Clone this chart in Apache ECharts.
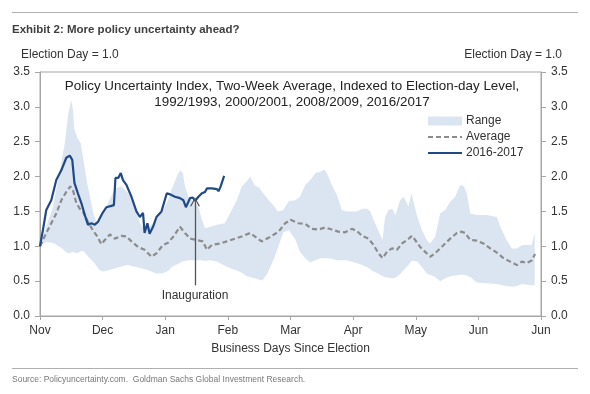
<!DOCTYPE html>
<html><head><meta charset="utf-8">
<script src="https://cdn.jsdelivr.net/npm/echarts@6.0.0/dist/echarts.min.js"></script>
<style>html,body{margin:0;padding:0;background:#fff}#c{width:590px;height:394px}</style>
</head><body><div id="c"></div>
<script>
// ---- data ----
const monthLabels = ['Nov','Dec','Jan','Feb','Mar','Apr','May','Jun','Jun'];

const bandDays = [0,2,4,6,7,8,9,10,10.5,11,
 12,13,14,15,16,17,18,19,20,22,
 24,26,28,30,32,33.5,35,37,39,41,
 42,43.7,44.7,45.6,46.3,47.4,49,50.6,51.7,52.7,
 54.3,56.5,59,61,63,64.5,66,67.1,68.5,70,
 71,72.5,74.5,76,77.7,79.5,81.5,83,84.7,86.3,
 88,89.5,90.8,91.6,93.2,94.8,96.4,98,101,103,
 104.5,105.5,106.5,108,109.4,110.2,111.3,112.5,113.5,115,
 116.1,117.7,118.6,119.5,120.5,122,123.5,124.6,126.2,127.8,
 129.4,131,132.6,134.2,135.3,136.3,137.4,139.5,142.7,145.9,
 147,149,150.7,152.3,154,157,158];
const bandHigh = [1.00,1.28,1.55,2.00,2.25,2.50,2.90,3.10,2.96,2.67,
 2.55,2.48,2.20,1.92,1.70,1.48,1.33,1.35,1.45,1.65,
 1.83,1.86,1.77,1.58,1.33,1.23,1.28,1.38,1.49,1.67,
 1.81,2.00,2.09,2.05,1.86,1.71,1.64,1.57,1.38,1.26,
 1.28,1.31,1.33,1.50,1.68,1.86,1.93,2.00,1.88,1.84,
 1.78,1.69,1.59,1.50,1.52,1.65,1.66,1.71,1.88,1.95,
 2.05,2.07,2.10,2.05,1.88,1.74,1.52,1.50,1.50,1.54,
 1.54,1.50,1.38,1.23,1.09,1.42,1.52,1.54,1.45,1.66,
 1.71,1.57,1.76,1.60,1.42,1.23,1.09,1.04,1.14,1.47,
 1.52,1.64,1.71,1.88,1.86,1.76,1.47,1.45,1.45,1.42,
 1.28,1.09,0.97,0.97,1.02,1.02,1.19];
const bandLow = [1.00,1.06,1.05,1.00,0.97,0.93,0.90,0.91,0.92,0.91,
 0.90,0.93,0.93,0.87,0.82,0.78,0.72,0.66,0.64,0.66,
 0.68,0.71,0.73,0.71,0.69,0.67,0.65,0.61,0.61,0.65,
 0.70,0.74,0.76,0.78,0.79,0.80,0.80,0.80,0.80,0.79,
 0.80,0.78,0.72,0.68,0.65,0.62,0.57,0.56,0.54,0.52,
 0.51,0.60,0.80,0.98,1.20,1.23,1.10,0.92,0.83,0.77,
 0.80,0.83,0.83,0.83,0.82,0.80,0.80,0.80,0.76,0.73,
 0.70,0.67,0.64,0.61,0.57,0.56,0.55,0.54,0.55,0.60,
 0.66,0.73,0.79,0.79,0.78,0.70,0.61,0.59,0.56,0.50,
 0.54,0.57,0.58,0.59,0.59,0.58,0.56,0.48,0.47,0.46,
 0.45,0.43,0.42,0.43,0.46,0.44,0.44];

const avgDays = [0,2,3.6,5.2,6.8,8.4,9.7,10.5,11.6,12.7,
 13.7,15.3,16.9,18.3,19.6,20.7,22.3,23.9,26,27.6,
 29.2,31.3,33.4,35.6,37.2,39.3,40.9,42.6,44.7,46.3,
 47.9,50,52,53.3,54.9,57.5,59.6,62.3,64.4,67.1,
 70.8,73.3,76.2,78.3,80,82.5,84.7,86.8,88.9,91.1,
 93.2,95.3,97.4,99.6,101.2,102.8,104.9,106.5,108.1,109.4,
 110.8,112.4,114,115.6,117.2,118.8,119.8,121.4,123,124.6,
 126.2,127.8,129.4,131,133.1,134.7,135.8,137.4,139.5,141.6,
 143.8,145.9,148,150.2,152.3,153.9,155.5,157.1,158.1];
const avgValues = [1.00,1.19,1.33,1.47,1.66,1.78,1.86,1.81,1.62,1.54,
 1.50,1.35,1.23,1.14,1.03,1.09,1.17,1.11,1.15,1.14,
 1.07,0.99,0.95,0.85,0.90,1.02,1.05,1.14,1.28,1.19,
 1.11,1.09,1.07,0.95,1.02,1.04,1.07,1.11,1.14,1.19,
 1.07,1.13,1.21,1.33,1.38,1.33,1.32,1.25,1.24,1.27,
 1.24,1.21,1.20,1.25,1.22,1.15,1.11,1.02,0.90,0.83,
 0.92,0.97,0.95,1.04,1.09,1.15,1.09,0.99,0.92,0.85,
 0.90,0.97,1.04,1.11,1.19,1.21,1.19,1.09,1.08,1.04,
 0.97,0.91,0.83,0.78,0.73,0.78,0.76,0.80,0.89];

const days2016 = [0,1,2,3.6,5.2,6.8,8.4,9.5,10.3,11,
 12.1,13.2,14.3,15.3,16.4,17.5,18.5,20,21.2,22.8,
 23.6,24.1,25,25.8,26.5,27.6,29.2,30.8,31.9,32.9,
 33.4,34.3,35,36.1,37.2,38.8,40.5,41.3,43.1,44.7,
 45.8,46.6,47.9,48.8,49.5,50.6,51.7,52.7,53.3,54.9,
 56.5,57,57.7,58.8];
const values2016 = [1.00,1.25,1.52,1.66,1.95,2.09,2.27,2.30,2.24,1.91,
 1.76,1.62,1.45,1.31,1.33,1.31,1.35,1.48,1.56,1.58,
 1.59,1.98,1.98,2.05,1.95,1.88,1.71,1.50,1.42,1.48,
 1.19,1.33,1.18,1.28,1.42,1.50,1.76,1.75,1.71,1.69,
 1.66,1.56,1.69,1.70,1.65,1.71,1.76,1.78,1.83,1.83,
 1.82,1.79,1.86,2.01];

const inaugurationDay = 49.5;
const arrowFrom = 0.44, arrowTo = 1.64;

// ---- chart ----
const FONT = '"Liberation Sans", Arial, sans-serif';
const bandColor = '#dbe5f1';
const avgColor = '#8c8c8c';
const lineColor = '#1f4a87';
const axisColor = '#a6a6a6';
const textColor = '#333333';

const chart = echarts.init(document.getElementById('c'), null, {renderer: 'canvas'});

const yAxisCommon = {
  type: 'value', min: 0, max: 3.5, interval: 0.5,
  splitLine: {show: false},
  axisLine: {show: true, lineStyle: {color: axisColor, width: 1}},
  axisTick: {show: true, length: 5, lineStyle: {color: axisColor}},
  axisLabel: {color: textColor, fontSize: 12, fontFamily: FONT, margin: 10,
    formatter: v => v.toFixed(1)}
};

chart.setOption({
  animation: false,
  textStyle: {fontFamily: FONT},
  grid: {left: 40, top: 72, width: 501, height: 244, show: true,
    borderColor: axisColor, borderWidth: 1, backgroundColor: 'transparent'},
  legend: {
    orient: 'vertical', left: 422, top: 110, itemWidth: 34, itemHeight: 9, itemGap: 4,
    textStyle: {color: textColor, fontSize: 12, fontFamily: FONT, padding: [0,0,0,-1]},
    data: [
      {name: 'Range', icon: 'rect'},
      {name: 'Average', itemStyle: {opacity: 0}},
      {name: '2016-2017', itemStyle: {opacity: 0}}
    ]
  },
  xAxis: {
    type: 'value', min: 0, max: 160, interval: 20,
    splitLine: {show: false},
    axisLine: {show: true, lineStyle: {color: axisColor, width: 1}},
    axisTick: {show: true, length: 4, lineStyle: {color: axisColor}},
    axisLabel: {color: textColor, fontSize: 12, fontFamily: FONT, margin: 9,
      formatter: v => monthLabels[Math.round(v / 20)] || ''},
    name: 'Business Days Since Election', nameLocation: 'middle', nameGap: 27,
    nameTextStyle: {color: textColor, fontSize: 12, fontFamily: FONT}
  },
  yAxis: [
    Object.assign({position: 'left'}, yAxisCommon),
    Object.assign({position: 'right'}, yAxisCommon)
  ],
  graphic: [
    {type: 'line', shape: {x1: 12, y1: 12.5, x2: 578, y2: 12.5}, style: {stroke: '#b0b0b0', lineWidth: 1}},
    {type: 'text', left: 12, top: 23.5, style: {text: 'Exhibit 2: More policy uncertainty ahead?',
      font: 'bold 11.5px ' + FONT, fill: '#404040'}},
    {type: 'text', left: 21, top: 48.5, style: {text: 'Election Day = 1.0', font: '12px ' + FONT, fill: textColor}},
    {type: 'text', right: 28, top: 48.5, style: {text: 'Election Day = 1.0', font: '12px ' + FONT, fill: textColor}},
    {type: 'text', x: 292, y: 78, style: {text: 'Policy Uncertainty Index, Two-Week Average, Indexed to Election-day Level,\n1992/1993, 2000/2001, 2008/2009, 2016/2017',
      font: '13.4px ' + FONT, fill: '#222', align: 'center', lineHeight: 16}},
    {type: 'line', shape: {x1: 12, y1: 368.5, x2: 578, y2: 368.5}, style: {stroke: '#b0b0b0', lineWidth: 1}},
    {type: 'text', left: 12, top: 375, style: {text: 'Source: Policyuncertainty.com.  Goldman Sachs Global Investment Research.',
      font: '8.5px ' + FONT, fill: '#777'}}
  ],
  series: [
    {
      name: 'Range', type: 'custom', xAxisIndex: 0, yAxisIndex: 0, z: 1,
      itemStyle: {color: bandColor},
      encode: {x: 0, y: [1, 2]},
      data: bandDays.map((d, i) => [d, bandLow[i], bandHigh[i]]),
      renderItem: function (params, api) {
        if (params.dataIndex !== 0) return null;
        const pts = [];
        for (let i = 0; i < bandDays.length; i++) pts.push(api.coord([bandDays[i], bandHigh[i]]));
        for (let i = bandDays.length - 1; i >= 0; i--) pts.push(api.coord([bandDays[i], bandLow[i]]));
        return {type: 'polygon', shape: {points: pts}, style: {fill: bandColor}};
      }
    },
    {
      name: 'Average', type: 'line', z: 3, symbol: 'none', showSymbol: false,
      data: avgDays.map((d, i) => [d, avgValues[i]]),
      itemStyle: {color: avgColor},
      lineStyle: {color: avgColor, width: 2.2, type: [5, 3]}
    },
    {
      name: '2016-2017', type: 'line', z: 4, symbol: 'none', showSymbol: false,
      data: days2016.map((d, i) => [d, values2016[i]]),
      itemStyle: {color: lineColor},
      lineStyle: {color: lineColor, width: 2.2},
      markLine: {
        silent: true, animation: false,
        symbol: ['none', 'path://M0,10 L5,0 L10,10 L8.6,10 L5,2.6 L1.4,10 Z'],
        symbolSize: [10, 9],
        lineStyle: {color: '#555', width: 1.3, type: 'solid'},
        label: {show: true, position: 'start', formatter: 'Inauguration', color: textColor,
          fontSize: 12, fontFamily: FONT, distance: 4},
        data: [[{coord: [inaugurationDay, arrowFrom]}, {coord: [inaugurationDay, arrowTo]}]]
      }
    }
  ]
});
</script>
</body></html>
